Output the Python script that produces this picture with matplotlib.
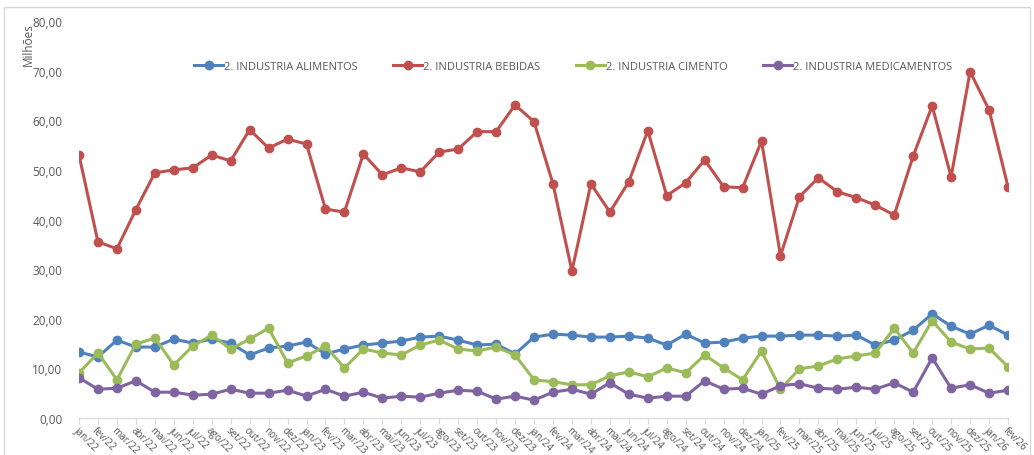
import matplotlib.pyplot as plt
from matplotlib.patches import Rectangle

plt.rcParams['font.family'] = ['Open Sans', 'DejaVu Sans']

meses = ["jan", "fev", "mar", "abr", "mai", "jun",
         "jul", "ago", "set", "out", "nov", "dez"]
labels = [f"{m}/{a}" for a in ["22", "23", "24", "25"] for m in meses] + ["jan/26", "fev/26"]

alimentos = [13.3, 12.3, 15.7, 14.3, 14.3, 15.9, 15.1, 15.9, 15.1, 12.7, 14.1, 14.5,
             15.3, 12.9, 13.9, 14.7, 15.1, 15.5, 16.3, 16.5, 15.7, 14.7, 14.9, 12.9,
             16.3, 16.9, 16.7, 16.3, 16.3, 16.5, 16.1, 14.7, 16.9, 15.1, 15.3, 16.1,
             16.5, 16.5, 16.7, 16.7, 16.5, 16.7, 14.7, 15.7, 17.7, 21.0, 18.5, 16.9,
             18.7, 16.7]
bebidas = [53.0, 35.5, 34.1, 42.0, 49.4, 50.0, 50.4, 53.0, 51.8, 58.1, 54.4, 56.2,
           55.2, 42.1, 41.5, 53.2, 49.0, 50.4, 49.6, 53.6, 54.2, 57.7, 57.7, 63.1,
           59.7, 47.2, 29.6, 47.2, 41.5, 47.6, 57.9, 44.8, 47.4, 52.0, 46.6, 46.4,
           55.8, 32.7, 44.6, 48.4, 45.6, 44.4, 42.9, 40.9, 52.8, 62.9, 48.6, 69.8,
           62.1, 46.6]
cimento = [9.1, 13.1, 7.7, 14.9, 16.1, 10.7, 14.5, 16.7, 13.9, 15.9, 18.1, 11.1,
           12.5, 14.5, 10.1, 13.9, 13.1, 12.7, 14.7, 15.7, 13.9, 13.5, 14.3, 12.7,
           7.7, 7.3, 6.7, 6.7, 8.5, 9.3, 8.3, 10.1, 9.1, 12.7, 10.1, 7.7,
           13.5, 5.8, 9.9, 10.5, 11.9, 12.5, 13.1, 18.1, 13.1, 19.6, 15.3, 13.9,
           14.1, 10.3]
medicamentos = [8.1, 5.8, 6.0, 7.5, 5.2, 5.2, 4.6, 4.8, 5.8, 5.0, 5.0, 5.6,
                4.4, 5.8, 4.4, 5.2, 4.0, 4.4, 4.2, 5.0, 5.6, 5.4, 3.8, 4.4,
                3.6, 5.2, 5.8, 4.8, 7.1, 4.8, 4.0, 4.4, 4.4, 7.5, 5.8, 6.0,
                4.8, 6.5, 6.9, 6.0, 5.8, 6.2, 5.8, 7.1, 5.2, 12.1, 6.0, 6.7,
                5.0, 5.6]

series = [("2. INDUSTRIA ALIMENTOS", alimentos, "#4F81BD"),
          ("2. INDUSTRIA BEBIDAS", bebidas, "#C0504D"),
          ("2. INDUSTRIA CIMENTO", cimento, "#9BBB59"),
          ("2. INDUSTRIA MEDICAMENTOS", medicamentos, "#8064A2")]

fig = plt.figure(figsize=(10.34, 4.56), dpi=100)
ax = fig.add_axes([79 / 1034, 1 - 419 / 456, (1008 - 79) / 1034, (419 - 22) / 456])

x = list(range(len(labels)))
for name, vals, color in series:
    ax.plot(x, vals, color=color, lw=2.2, marker="o", ms=6, label=name)

ax.set_xlim(0, len(labels) - 1)
ax.set_ylim(0, 80)
ax.set_yticks(range(0, 81, 10))
ax.set_yticklabels([f"{v},00" for v in range(0, 81, 10)])
ax.set_xticks(x)
ax.set_xticklabels(labels, rotation=-45, ha="left", va="top", rotation_mode="anchor")
ax.tick_params(axis="y", length=0, pad=12, labelsize=8.5, labelcolor="#595959")
ax.tick_params(axis="x", length=4, color="#D9D9D9", pad=0.5, labelsize=7.1, labelcolor="#595959")
for s in ["top", "right", "left"]:
    ax.spines[s].set_visible(False)
ax.spines["bottom"].set_color("#D9D9D9")
ax.set_clip_on(False)

fig.text(28 / 1034, 1 - 45 / 456, "Milhões", rotation=90, ha="center", va="center",
         fontsize=8.5, color="#595959")

ax.legend(loc="center", bbox_to_anchor=(0.532, 1 - (67 - 22) / 397), ncol=4, frameon=False,
          fontsize=8, labelcolor="#595959", handlelength=2.6, handletextpad=0.1,
          columnspacing=3.2, borderpad=0)

fig.patches.append(Rectangle((4 / 1034, -0.1), (1030 - 4) / 1034, 1.1 - 8 / 456,
                             transform=fig.transFigure, fill=False, ec="#D9D9D9", lw=1))

fig.savefig("out.png", dpi=100)
